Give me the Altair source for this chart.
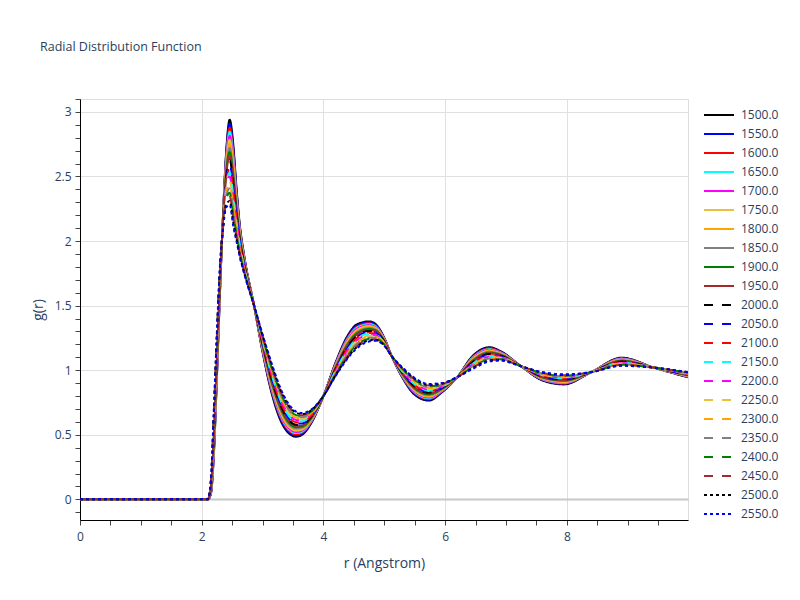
import altair as alt
import pandas as pd

# r grid (Angstrom)
r_vals = [0.0, 2.0, 2.1, 2.15, 2.2, 2.25, 2.3, 2.35, 2.4, 2.46, 2.52, 2.57, 2.62, 2.7, 2.86,
          3.0, 3.15, 3.35, 3.55, 3.65, 3.8, 4.0, 4.2, 4.4, 4.55, 4.75, 4.85, 5.0, 5.12, 5.3,
          5.5, 5.73, 5.95, 6.2, 6.45, 6.73, 6.9, 7.25, 7.6, 7.95, 8.4, 8.9, 9.43, 9.99]

g_1500 = [0, 0, 0, 0.04, 0.35, 0.95, 1.60, 2.20, 2.68, 2.94, 2.74, 2.42, 2.15, 1.88, 1.5, 1.14, 0.82, 0.56, 0.485, 0.50, 0.59, 0.8, 1.06, 1.27, 1.355, 1.378, 1.36, 1.25, 1.11, 0.94, 0.81, 0.765, 0.83, 0.947, 1.11, 1.178, 1.15, 1.03, 0.92, 0.89, 0.985, 1.097, 1.02, 0.945]
g_1550 = [0, 0, 0, 0.045, 0.367, 0.967, 1.61, 2.195, 2.66, 2.909, 2.71, 2.40, 2.138, 1.874, 1.5, 1.147, 0.831, 0.572, 0.494, 0.508, 0.595, 0.8, 1.055, 1.262, 1.346, 1.371, 1.354, 1.247, 1.11, 0.944, 0.816, 0.771, 0.833, 0.947, 1.105, 1.173, 1.146, 1.03, 0.923, 0.894, 0.985, 1.094, 1.02, 0.947]
g_1600 = [0, 0, 0, 0.05, 0.383, 0.983, 1.62, 2.19, 2.64, 2.877, 2.68, 2.38, 2.125, 1.867, 1.5, 1.153, 0.842, 0.583, 0.504, 0.516, 0.60, 0.8, 1.05, 1.253, 1.337, 1.363, 1.347, 1.244, 1.11, 0.948, 0.822, 0.777, 0.837, 0.947, 1.10, 1.168, 1.143, 1.03, 0.926, 0.897, 0.985, 1.091, 1.02, 0.949]
g_1650 = [0, 0, 0, 0.055, 0.40, 1.0, 1.63, 2.185, 2.62, 2.846, 2.65, 2.36, 2.113, 1.861, 1.5, 1.16, 0.853, 0.595, 0.513, 0.524, 0.605, 0.8, 1.045, 1.245, 1.329, 1.356, 1.341, 1.241, 1.11, 0.951, 0.829, 0.783, 0.84, 0.947, 1.096, 1.162, 1.139, 1.03, 0.929, 0.901, 0.985, 1.088, 1.02, 0.951]
g_1700 = [0, 0, 0, 0.06, 0.417, 1.017, 1.64, 2.18, 2.60, 2.814, 2.62, 2.34, 2.10, 1.854, 1.5, 1.166, 0.864, 0.606, 0.522, 0.532, 0.61, 0.8, 1.04, 1.236, 1.32, 1.348, 1.335, 1.238, 1.11, 0.955, 0.835, 0.789, 0.843, 0.947, 1.091, 1.157, 1.136, 1.03, 0.932, 0.905, 0.985, 1.085, 1.02, 0.953]
g_1750 = [0, 0, 0, 0.065, 0.433, 1.033, 1.65, 2.175, 2.58, 2.783, 2.59, 2.32, 2.088, 1.848, 1.5, 1.173, 0.875, 0.618, 0.532, 0.54, 0.615, 0.8, 1.035, 1.228, 1.311, 1.341, 1.329, 1.236, 1.11, 0.959, 0.841, 0.796, 0.847, 0.947, 1.086, 1.152, 1.132, 1.03, 0.936, 0.909, 0.985, 1.082, 1.02, 0.955]
g_1800 = [0, 0, 0, 0.07, 0.45, 1.05, 1.66, 2.17, 2.56, 2.752, 2.56, 2.30, 2.075, 1.841, 1.5, 1.179, 0.886, 0.629, 0.541, 0.548, 0.62, 0.8, 1.03, 1.219, 1.302, 1.334, 1.322, 1.233, 1.11, 0.963, 0.847, 0.802, 0.85, 0.947, 1.081, 1.147, 1.128, 1.03, 0.939, 0.912, 0.985, 1.079, 1.02, 0.956]
g_1850 = [0, 0, 0, 0.075, 0.467, 1.067, 1.67, 2.165, 2.54, 2.72, 2.53, 2.28, 2.063, 1.835, 1.5, 1.186, 0.897, 0.641, 0.55, 0.556, 0.625, 0.8, 1.025, 1.21, 1.293, 1.326, 1.316, 1.23, 1.11, 0.967, 0.853, 0.808, 0.853, 0.947, 1.076, 1.142, 1.125, 1.03, 0.942, 0.916, 0.985, 1.076, 1.02, 0.958]
g_1900 = [0, 0, 0, 0.08, 0.483, 1.083, 1.68, 2.16, 2.52, 2.689, 2.50, 2.26, 2.05, 1.828, 1.5, 1.192, 0.908, 0.652, 0.559, 0.564, 0.63, 0.8, 1.02, 1.202, 1.285, 1.319, 1.31, 1.227, 1.11, 0.97, 0.86, 0.814, 0.857, 0.947, 1.072, 1.136, 1.121, 1.03, 0.945, 0.92, 0.985, 1.073, 1.02, 0.96]
g_1950 = [0, 0, 0, 0.085, 0.50, 1.10, 1.69, 2.155, 2.50, 2.657, 2.47, 2.24, 2.038, 1.822, 1.5, 1.199, 0.919, 0.664, 0.569, 0.572, 0.635, 0.8, 1.015, 1.194, 1.276, 1.311, 1.303, 1.224, 1.11, 0.974, 0.866, 0.82, 0.86, 0.947, 1.067, 1.131, 1.118, 1.03, 0.948, 0.923, 0.985, 1.07, 1.02, 0.962]
g_2000 = [0, 0, 0, 0.09, 0.517, 1.117, 1.70, 2.15, 2.48, 2.626, 2.44, 2.22, 2.025, 1.815, 1.5, 1.205, 0.93, 0.675, 0.578, 0.58, 0.64, 0.8, 1.01, 1.185, 1.267, 1.304, 1.297, 1.221, 1.11, 0.978, 0.872, 0.826, 0.863, 0.947, 1.062, 1.126, 1.114, 1.03, 0.951, 0.927, 0.985, 1.067, 1.02, 0.964]
g_2050 = [0, 0, 0, 0.095, 0.533, 1.133, 1.71, 2.145, 2.46, 2.594, 2.41, 2.20, 2.013, 1.809, 1.5, 1.212, 0.941, 0.687, 0.587, 0.588, 0.645, 0.8, 1.005, 1.177, 1.258, 1.297, 1.291, 1.218, 1.11, 0.982, 0.878, 0.832, 0.866, 0.947, 1.057, 1.121, 1.11, 1.03, 0.954, 0.931, 0.985, 1.064, 1.02, 0.966]
g_2100 = [0, 0, 0, 0.10, 0.55, 1.15, 1.72, 2.14, 2.44, 2.563, 2.38, 2.18, 2.00, 1.802, 1.5, 1.218, 0.952, 0.698, 0.597, 0.596, 0.65, 0.8, 1.0, 1.168, 1.249, 1.289, 1.284, 1.215, 1.11, 0.986, 0.884, 0.838, 0.87, 0.947, 1.052, 1.116, 1.107, 1.03, 0.957, 0.934, 0.985, 1.061, 1.02, 0.968]
g_2150 = [0, 0, 0, 0.105, 0.567, 1.167, 1.73, 2.135, 2.42, 2.531, 2.35, 2.16, 1.988, 1.796, 1.5, 1.225, 0.963, 0.71, 0.606, 0.604, 0.655, 0.8, 0.995, 1.16, 1.241, 1.282, 1.278, 1.212, 1.11, 0.989, 0.891, 0.844, 0.873, 0.947, 1.048, 1.11, 1.103, 1.03, 0.96, 0.938, 0.985, 1.058, 1.02, 0.97]
g_2200 = [0, 0, 0, 0.11, 0.583, 1.183, 1.74, 2.13, 2.40, 2.50, 2.32, 2.14, 1.975, 1.789, 1.5, 1.231, 0.974, 0.721, 0.615, 0.612, 0.66, 0.8, 0.99, 1.151, 1.232, 1.274, 1.272, 1.209, 1.11, 0.993, 0.897, 0.85, 0.877, 0.947, 1.043, 1.105, 1.10, 1.03, 0.963, 0.942, 0.985, 1.055, 1.02, 0.972]
g_2250 = [0, 0, 0, 0.115, 0.60, 1.20, 1.75, 2.125, 2.38, 2.469, 2.29, 2.12, 1.963, 1.783, 1.5, 1.238, 0.985, 0.733, 0.625, 0.62, 0.665, 0.8, 0.985, 1.143, 1.223, 1.267, 1.266, 1.207, 1.11, 0.997, 0.903, 0.857, 0.88, 0.947, 1.038, 1.10, 1.096, 1.03, 0.967, 0.946, 0.985, 1.052, 1.02, 0.974]
g_2300 = [0, 0, 0, 0.12, 0.617, 1.217, 1.76, 2.12, 2.36, 2.437, 2.26, 2.10, 1.95, 1.776, 1.5, 1.244, 0.996, 0.744, 0.634, 0.628, 0.67, 0.8, 0.98, 1.134, 1.214, 1.26, 1.259, 1.204, 1.11, 1.001, 0.909, 0.863, 0.883, 0.947, 1.033, 1.095, 1.092, 1.03, 0.97, 0.949, 0.985, 1.049, 1.02, 0.975]
g_2350 = [0, 0, 0, 0.125, 0.633, 1.233, 1.77, 2.115, 2.34, 2.406, 2.23, 2.08, 1.938, 1.77, 1.5, 1.251, 1.007, 0.756, 0.643, 0.636, 0.675, 0.8, 0.975, 1.126, 1.205, 1.252, 1.253, 1.201, 1.11, 1.005, 0.915, 0.869, 0.887, 0.947, 1.029, 1.09, 1.089, 1.03, 0.973, 0.953, 0.985, 1.046, 1.02, 0.977]
g_2400 = [0, 0, 0, 0.13, 0.65, 1.25, 1.78, 2.11, 2.32, 2.374, 2.20, 2.06, 1.925, 1.763, 1.5, 1.257, 1.018, 0.767, 0.652, 0.644, 0.68, 0.8, 0.97, 1.117, 1.197, 1.244, 1.247, 1.198, 1.11, 1.008, 0.922, 0.875, 0.89, 0.947, 1.024, 1.084, 1.085, 1.03, 0.976, 0.957, 0.985, 1.043, 1.02, 0.979]
g_2450 = [0, 0, 0, 0.135, 0.667, 1.267, 1.79, 2.105, 2.30, 2.343, 2.17, 2.04, 1.913, 1.757, 1.5, 1.264, 1.029, 0.779, 0.662, 0.652, 0.685, 0.8, 0.965, 1.109, 1.188, 1.237, 1.24, 1.195, 1.11, 1.012, 0.928, 0.881, 0.893, 0.947, 1.019, 1.079, 1.082, 1.03, 0.979, 0.96, 0.985, 1.04, 1.02, 0.981]
g_2500 = [0, 0, 0, 0.14, 0.683, 1.283, 1.80, 2.10, 2.28, 2.311, 2.14, 2.02, 1.90, 1.75, 1.5, 1.27, 1.04, 0.79, 0.671, 0.66, 0.69, 0.8, 0.96, 1.10, 1.179, 1.23, 1.234, 1.192, 1.11, 1.016, 0.934, 0.887, 0.897, 0.947, 1.014, 1.074, 1.078, 1.03, 0.982, 0.964, 0.985, 1.037, 1.02, 0.983]
g_2550 = [0, 0, 0, 0.145, 0.70, 1.30, 1.81, 2.095, 2.26, 2.28, 2.11, 2.00, 1.888, 1.744, 1.5, 1.277, 1.051, 0.802, 0.68, 0.668, 0.695, 0.8, 0.955, 1.092, 1.17, 1.223, 1.228, 1.189, 1.11, 1.02, 0.94, 0.893, 0.90, 0.947, 1.009, 1.069, 1.075, 1.03, 0.985, 0.968, 0.985, 1.034, 1.02, 0.985]

series = {
    "1500.0": g_1500, "1550.0": g_1550, "1600.0": g_1600, "1650.0": g_1650,
    "1700.0": g_1700, "1750.0": g_1750, "1800.0": g_1800, "1850.0": g_1850,
    "1900.0": g_1900, "1950.0": g_1950, "2000.0": g_2000, "2050.0": g_2050,
    "2100.0": g_2100, "2150.0": g_2150, "2200.0": g_2200, "2250.0": g_2250,
    "2300.0": g_2300, "2350.0": g_2350, "2400.0": g_2400, "2450.0": g_2450,
    "2500.0": g_2500, "2550.0": g_2550,
}
temps = list(series.keys())

base_colors = ["black", "blue", "red", "cyan", "magenta", "#EBC03F", "orange", "gray", "green", "brown"]
colors = base_colors + base_colors + ["black", "blue"]
dashes = [[1, 0]] * 10 + [[9, 9]] * 10 + [[3, 3]] * 2

rows = []
for t in temps:
    for r, g in zip(r_vals, series[t]):
        rows.append({"T": t, "r": r, "g": g})
df = pd.DataFrame(rows)

FONT = "Open Sans"
TXT = "#2a3f5f"

x_ticks = [k * 0.5 for k in range(0, 20)]
y_ticks = [round(k * 0.1, 1) for k in range(-1, 32)]

xaxis = alt.Axis(
    values=x_ticks, format="~g", labelExpr="datum.value % 2 == 0 ? datum.label : ''",
    labelOverlap=False, labelFlush=False, labelPadding=6,
    grid=True, gridColor="#e0e0e0", gridWidth=1,
    gridOpacity={"condition": {"test": "datum.value % 2 == 0 && datum.value > 0", "value": 1}, "value": 0},
    tickColor="#444", tickSize=5, domainColor="black", domainWidth=1,
    labelFont=FONT, labelFontSize=12, labelColor=TXT,
    titleFont=FONT, titleFontSize=14, titleColor=TXT, titleFontWeight="normal", titlePadding=14,
)
yaxis = alt.Axis(
    values=y_ticks, format="~g",
    labelExpr="abs(datum.value * 2 - round(datum.value * 2)) < 0.001 ? datum.label : ''",
    labelOverlap=False, labelFlush=False, labelPadding=4,
    grid=True,
    gridColor={"condition": {"test": "abs(datum.value) < 0.001", "value": "#c8c8c8"}, "value": "#e0e0e0"},
    gridWidth={"condition": {"test": "abs(datum.value) < 0.001", "value": 2}, "value": 1},
    gridOpacity={"condition": {"test": "abs(datum.value * 2 - round(datum.value * 2)) < 0.001", "value": 1}, "value": 0},
    tickColor="#444", tickSize=5, domainColor="black", domainWidth=1,
    labelFont=FONT, labelFontSize=12, labelColor=TXT,
    titleFont=FONT, titleFontSize=14, titleColor=TXT, titleFontWeight="normal", titlePadding=9,
)

legend = alt.Legend(
    title=None, orient="none", legendX=633, legendY=10, padding=0,
    symbolType="M-3,0H3", symbolSize=100, symbolStrokeWidth=2,
    labelFont=FONT, labelFontSize=12, labelColor=TXT, labelOffset=16, labelLimit=0,
    rowPadding=7, symbolLimit=0,
)

chart = alt.Chart(df).mark_line(strokeWidth=2, interpolate="monotone", clip=True).encode(
    x=alt.X("r:Q", title="r (Angstrom)", axis=xaxis,
            scale=alt.Scale(domain=[0, 9.99], nice=False, zero=False)),
    y=alt.Y("g:Q", title="g(r)", axis=yaxis,
            scale=alt.Scale(domain=[-0.16, 3.1], nice=False, zero=False)),
    color=alt.Color("T:N", sort=temps, scale=alt.Scale(domain=temps, range=colors), legend=legend),
    strokeDash=alt.StrokeDash("T:N", sort=temps, scale=alt.Scale(domain=temps, range=dashes), legend=legend),
).properties(
    width=608, height=421,
    autosize=alt.AutoSizeParams(type="none"),
    padding={"left": 72, "top": 91, "right": 100, "bottom": 72},
    title=alt.TitleParams("Radial Distribution Function", anchor="start", frame="group", dx=-40, offset=40,
                          font=FONT, fontSize=12.5, color=TXT, fontWeight="normal"),
).configure_view(strokeWidth=0).configure(background="white")

chart.save("out.html", embed_options={"renderer": "svg", "actions": False})
